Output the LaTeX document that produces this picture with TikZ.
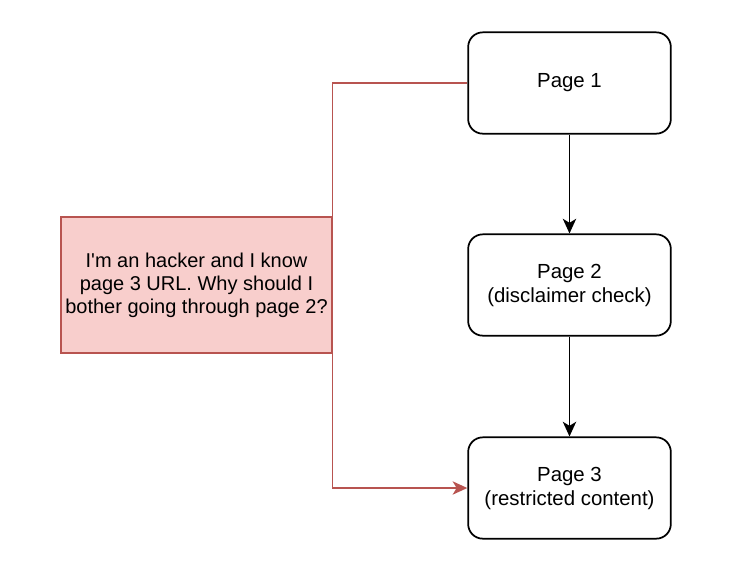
\documentclass[tikz,border=0pt]{standalone}
\usepackage{fontspec}
\setmainfont{Liberation Sans}
\usetikzlibrary{arrows.meta}
\definecolor{hackfill}{HTML}{F8CECC}
\definecolor{hackdraw}{HTML}{B85450}
\begin{document}
\begin{tikzpicture}[x=0.75pt,y=-0.75pt,
    >={Stealth[length=11pt,width=10pt,inset=3pt]},
    pagebox/.style={draw, line width=1.3pt, rounded corners=11pt,
        minimum width=152pt, minimum height=76pt, align=center,
        font=\fontsize{15.3pt}{18pt}\selectfont},
    hackbox/.style={draw=hackdraw, fill=hackfill, line width=1.1pt,
        minimum width=203pt, minimum height=102pt, align=center,
        inner sep=1pt, font=\fontsize{15pt}{17.3pt}\selectfont}]
    \useasboundingbox (0,0) rectangle (740,583);
    % Pagine del sito
    \node[pagebox] (page1) at (569.5,83) {Page 1};
    \node[pagebox] (page2) at (569.5,285) {Page 2\\(disclaimer check)};
    \node[pagebox] (page3) at (569.5,488) {Page 3\\(restricted content)};
    % Scorciatoia dell'attaccante
    \node[hackbox] (hacker) at (196.5,285) {I\textquotesingle m an hacker and I know\\page 3 URL. Why should I\\bother going through page 2?};
    % Percorso normale
    \draw[->, line width=1.3pt] (page1) -- (page2);
    \draw[->, line width=1.3pt] (page2) -- (page3);
    % Salto diretto a page 3
    \draw[->, hackdraw, line width=1.1pt] (page1.west) -| (hacker.east) |- (page3.west);
\end{tikzpicture}
\end{document}
